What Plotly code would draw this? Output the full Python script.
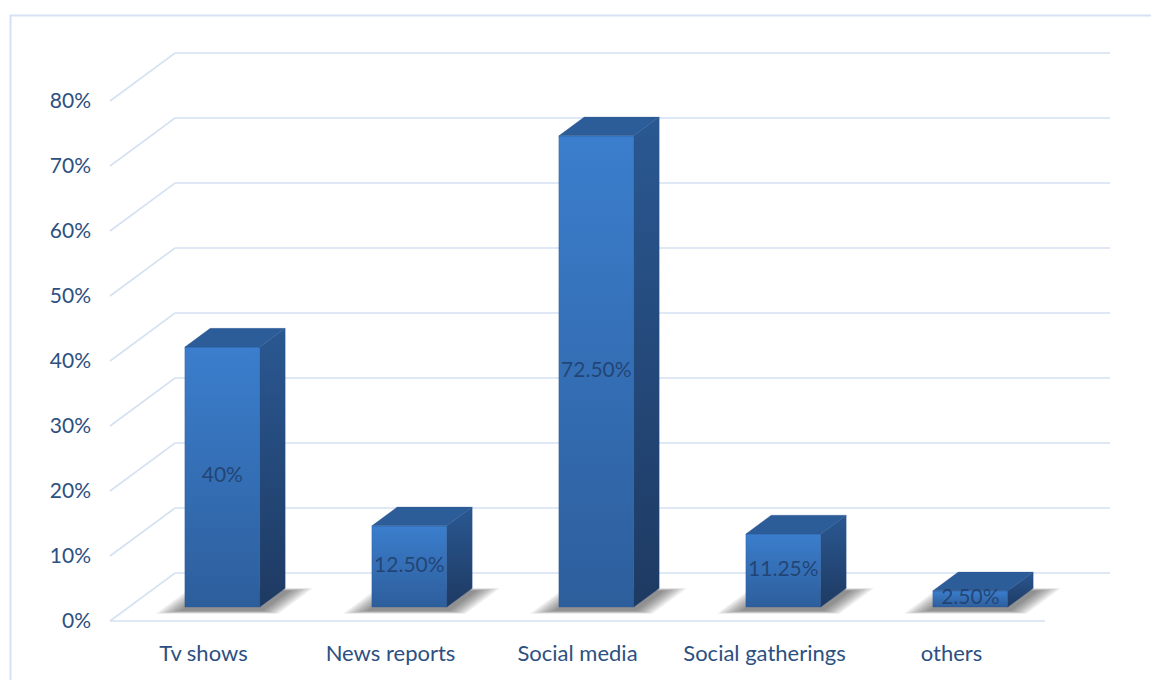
import plotly.graph_objects as go

# ---- data ----
categories = ["Tv shows", "News reports", "Social media", "Social gatherings", "others"]
shares = [40, 12.5, 72.5, 11.25, 2.5]
share_labels = ["40%", "12.50%", "72.50%", "11.25%", "2.50%"]
y_ticks = [0, 10, 20, 30, 40, 50, 60, 70, 80]

# ---- pseudo-3D projection (depth axis drawn as an oblique offset) ----
PX_X = 187.0          # pixels per category step
PX_Y = 6.5            # pixels per percentage point
DX = 65 / PX_X        # full depth offset along x (axis units)
DY = 48 / PX_Y        # full depth offset along y (axis units)
BAR_W = 75 / PX_X     # bar width (axis units)
D_FRONT = 0.29        # depth of the bar front face
D_BACK = 0.68         # depth of the bar back face

X0, X1 = -0.5 - 10 / PX_X, -0.5 + 1010 / PX_X
Y0, Y1 = -2.0, 90.0
M_L, M_R, M_T, M_B = 100, 1151 - 1120, 36, 46

GRID = "#D5E1F2"
TEXT = "#2C5081"
FONT = "Lato"


def proj(x, y, d):
    """Front-plane coordinates of a point at depth d (0 = front, 1 = back wall)."""
    return x + d * DX, y + d * DY


fig = go.Figure()

# grid: left wall diagonals + back wall horizontals, and the front edge of the floor
gx, gy = [], []
for v in y_ticks:
    ax, ay = proj(-0.5, v, 0)
    bx, by = proj(-0.5, v, 1)
    cx, cy = proj(len(categories) - 0.5, v, 1)
    gx += [ax, bx, cx, None]
    gy += [ay, by, cy, None]
gx += [-0.5, len(categories) - 0.5, None]
gy += [0, 0, None]
fig.add_trace(go.Scatter(x=gx, y=gy, mode="lines", line=dict(color=GRID, width=1.6),
                         hoverinfo="skip", showlegend=False))

# soft floor shadows under each bar (stacked translucent footprints)
n_layers = 9
for i, v in enumerate(shares):
    for k in range(n_layers):
        t = 1 - k / (n_layers - 1)          # 1 = outermost, 0 = innermost
        grow = 0.02 + 0.11 * t
        xl = i - BAR_W / 2 - grow
        xr = i + BAR_W / 2 + grow * 0.95
        d0 = D_FRONT - 0.01 - 0.06 * t
        d1 = D_BACK + 0.02 + 0.05 * t
        pts = [proj(xl, -0.5, d0), proj(xr, -0.5, d0), proj(xr, -0.5, d1), proj(xl, -0.5, d1)]
        fig.add_trace(go.Scatter(
            x=[p[0] for p in pts] + [pts[0][0]], y=[p[1] for p in pts] + [pts[0][1]],
            mode="lines", fill="toself", line=dict(width=0),
            fillcolor="rgba(40,40,40,0.075)", hoverinfo="skip", showlegend=False))

# bars: front, right side and top faces
for i, v in enumerate(shares):
    xl, xr = i - BAR_W / 2, i + BAR_W / 2
    fl_b, fr_b = proj(xl, 0, D_FRONT), proj(xr, 0, D_FRONT)
    fl_t, fr_t = proj(xl, v, D_FRONT), proj(xr, v, D_FRONT)
    bl_t, br_t = proj(xl, v, D_BACK), proj(xr, v, D_BACK)
    br_b = proj(xr, 0, D_BACK)

    faces = [
        ([fl_b, fr_b, fr_t, fl_t], [[0, "#2D5E9C"], [1, "#3B7ECD"]]),
        ([fr_b, br_b, br_t, fr_t], [[0, "#1E3A62"], [1, "#2A5892"]]),
        ([fl_t, fr_t, br_t, bl_t], [[0, "#2C5D99"], [1, "#2C5D99"]]),
    ]
    for pts, scale in faces:
        fig.add_trace(go.Scatter(
            x=[p[0] for p in pts] + [pts[0][0]], y=[p[1] for p in pts] + [pts[0][1]],
            mode="lines", fill="toself", line=dict(width=0.6, color="rgba(40,80,140,0.5)"),
            fillgradient=dict(type="vertical", colorscale=scale),
            hoverinfo="skip", showlegend=False))

# value labels centred on each front face
lx = [proj(i, 0, D_FRONT)[0] for i in range(len(categories))]
ly = [proj(0, v / 2, D_FRONT)[1] for v in shares]
fig.add_trace(go.Scatter(x=lx, y=ly, mode="text", text=share_labels,
                         textfont=dict(family=FONT, size=21, color="rgba(30,58,100,0.8)"),
                         hoverinfo="skip", showlegend=False))

# outer chart border
def px_to_paper_x(px):
    return (px - M_L) / (1151 - M_L - M_R)


def px_to_paper_y(py):
    return (680 - M_B - py) / (680 - M_T - M_B)


fig.add_shape(type="rect", xref="paper", yref="paper",
              x0=px_to_paper_x(10.5), x1=px_to_paper_x(1170),
              y0=px_to_paper_y(700), y1=px_to_paper_y(15.5),
              line=dict(color="#D6E2F3", width=2), fillcolor="rgba(0,0,0,0)")

fig.update_layout(
    width=1151, height=680,
    margin=dict(l=M_L, r=M_R, t=M_T, b=M_B),
    paper_bgcolor="white", plot_bgcolor="white",
    showlegend=False,
    xaxis=dict(range=[X0, X1], tickvals=list(range(len(categories))), ticktext=categories,
               showgrid=False, zeroline=False, showline=False, ticks="",
               tickfont=dict(family=FONT, size=22, color=TEXT), ticklabelstandoff=4),
    yaxis=dict(range=[Y0, Y1], tickvals=y_ticks, ticktext=[f"{t}%" for t in y_ticks],
               showgrid=False, zeroline=False, showline=False, ticks="",
               tickfont=dict(family=FONT, size=21, color=TEXT), ticklabelstandoff=8),
)

fig.write_html("out.html")
